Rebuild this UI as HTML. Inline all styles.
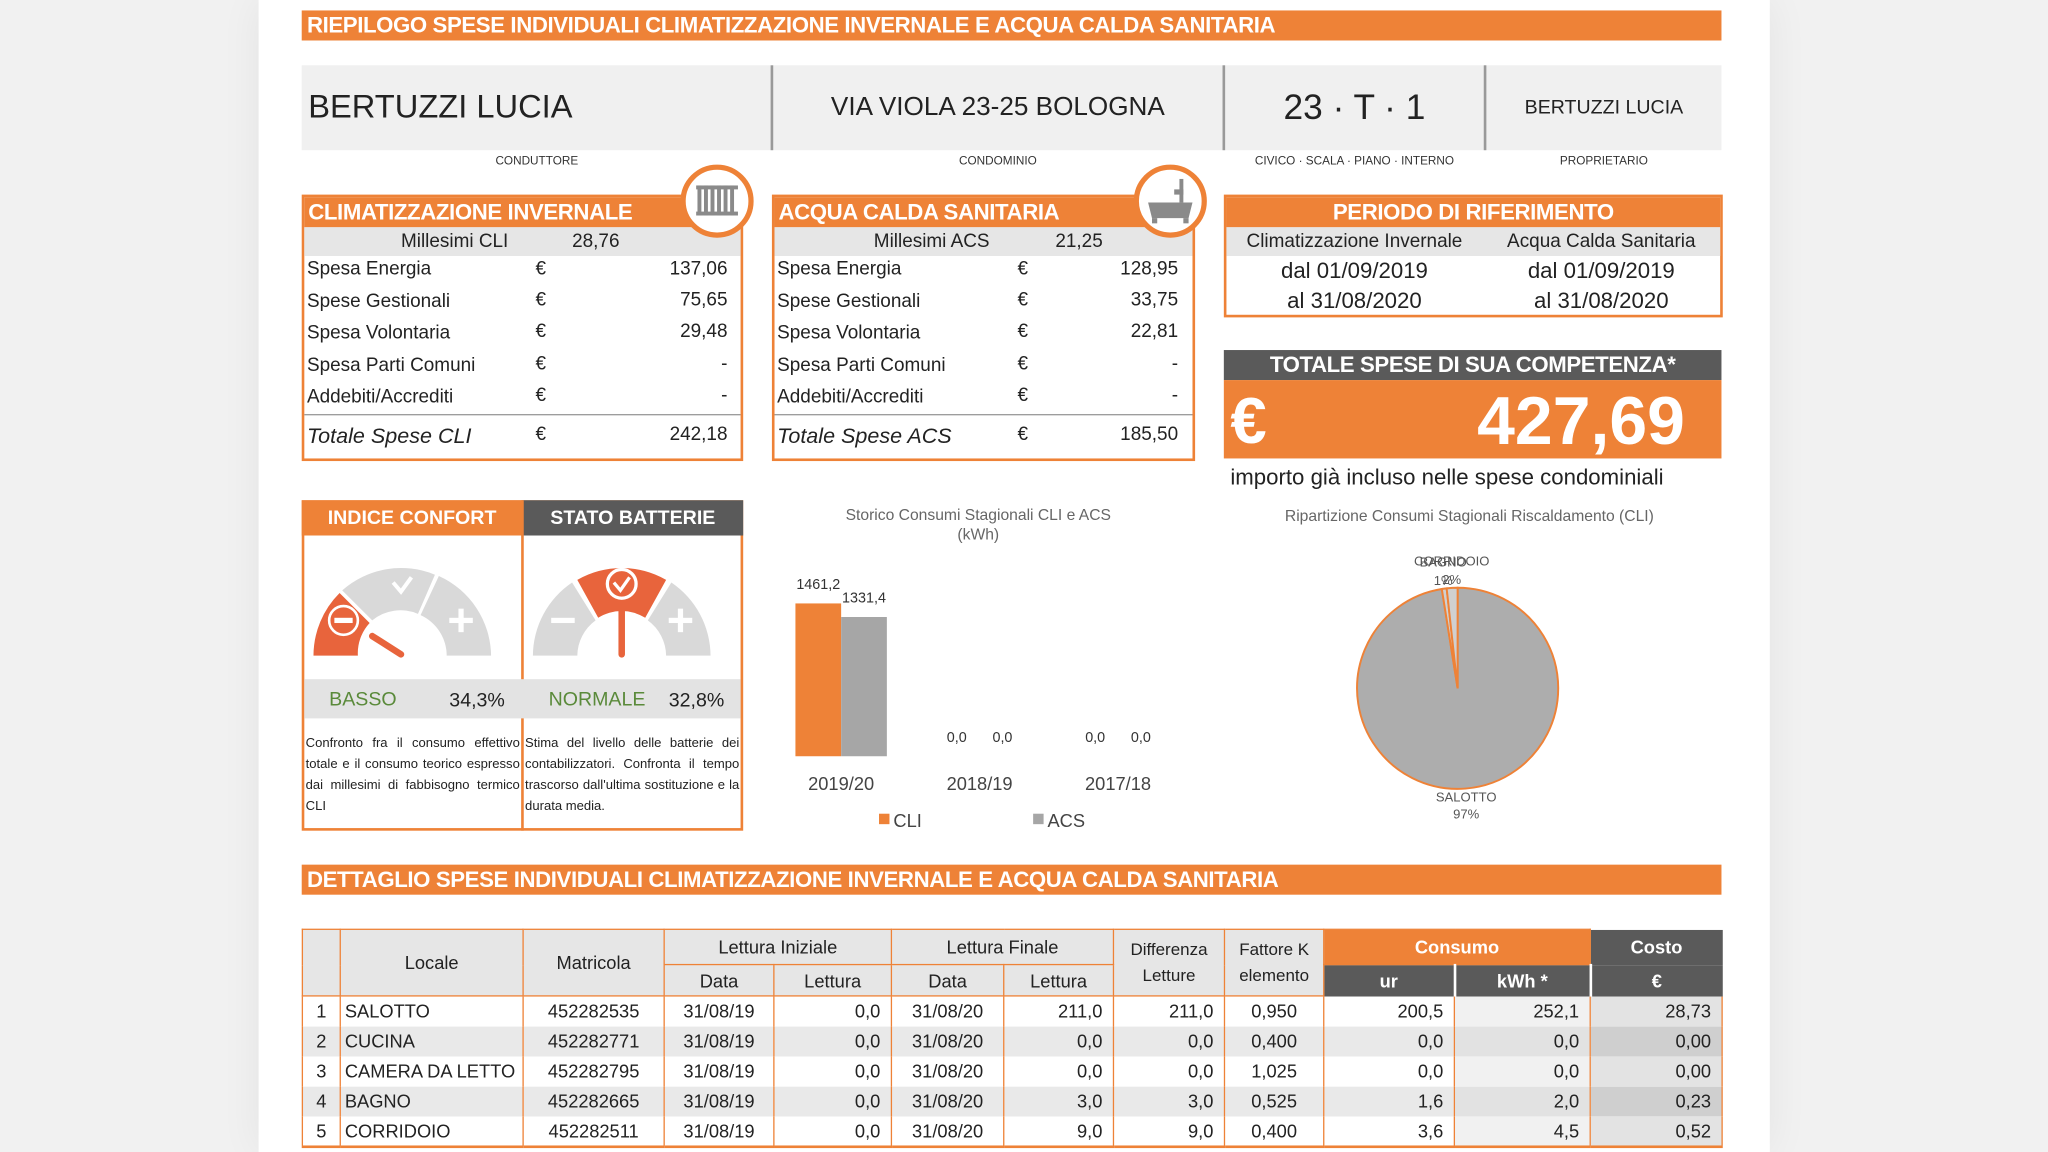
<!DOCTYPE html>
<html><head><meta charset="utf-8">
<style>
html,body{margin:0;padding:0;width:2048px;height:1152px;overflow:hidden;background:#f1f1f1;}
#wrap{position:absolute;left:0;top:0;width:1568px;height:882px;transform:scale(1.30612);transform-origin:0 0;font-family:"Liberation Sans Narrow","Liberation Sans",sans-serif;color:#222;}
.abs{position:absolute;}
.page{left:198px;top:0;width:1157px;height:882px;background:#fff;box-shadow:0 0 30px rgba(0,0,0,0.06);}
.obar{background:#ee8237;color:#fff;font-weight:bold;font-size:17px;line-height:23px;padding-left:4px;box-sizing:border-box;letter-spacing:-0.3px;}
.info{background:#f0f0f0;}
.lbl{font-size:9px;color:#333;text-align:center;}
.box{border:2px solid #ee8237;box-sizing:border-box;background:#fff;}
.hdr{background:#ee8237;color:#fff;font-weight:bold;font-size:17px;line-height:23px;letter-spacing:-0.3px;}
.row{font-size:14.5px;}
table{border-collapse:collapse;font-size:14px;}
</style></head><body>
<div id="wrap">
<div class="abs page"></div>

<div class="abs obar" style="left:231px;top:8px;width:1087px;height:23px;">RIEPILOGO SPESE INDIVIDUALI CLIMATIZZAZIONE INVERNALE E ACQUA CALDA SANITARIA</div>

<div class="abs info" style="left:231px;top:50px;width:1087px;height:65px;"></div>
<div class="abs" style="left:590px;top:50px;width:2px;height:65px;background:#999"></div>
<div class="abs" style="left:936px;top:50px;width:2px;height:65px;background:#999"></div>
<div class="abs" style="left:1136px;top:50px;width:2px;height:65px;background:#999"></div>
<div class="abs" style="left:236px;top:68px;font-size:25px;">BERTUZZI LUCIA</div>
<div class="abs" style="left:592px;width:344px;top:71px;font-size:20px;text-align:center;">VIA VIOLA 23-25 BOLOGNA</div>
<div class="abs" style="left:938px;width:198px;top:67px;font-size:27px;text-align:center;">23 · T · 1</div>
<div class="abs" style="left:1138px;width:180px;top:74px;font-size:15px;text-align:center;">BERTUZZI LUCIA</div>
<div class="abs lbl" style="left:331px;width:160px;top:118px;">CONDUTTORE</div>
<div class="abs lbl" style="left:684px;width:160px;top:118px;">CONDOMINIO</div>
<div class="abs lbl" style="left:937px;width:200px;top:118px;">CIVICO · SCALA · PIANO · INTERNO</div>
<div class="abs lbl" style="left:1148px;width:160px;top:118px;">PROPRIETARIO</div>

<!-- CLI box -->
<div class="abs box" style="left:231px;top:149px;width:338px;height:204px;">
 <div class="hdr" style="padding-left:3px;">CLIMATIZZAZIONE INVERNALE</div>
 <div style="background:#e6e6e6;height:22px;font-size:14.5px;line-height:22px;position:relative;"><span style="position:absolute;left:74px">Millesimi CLI</span><span style="position:absolute;left:205px">28,76</span></div>
</div>
<div class="abs" style="left:231px;top:0;width:338px;">
 <div class="abs row" style="left:4px;top:198px">Spesa Energia</div><div class="abs row" style="left:179px;top:198px">€</div><div class="abs row" style="left:230px;width:96px;text-align:right;top:198px">137,06</div>
 <div class="abs row" style="left:4px;top:223px">Spese Gestionali</div><div class="abs row" style="left:179px;top:222px">€</div><div class="abs row" style="left:230px;width:96px;text-align:right;top:222px">75,65</div>
 <div class="abs row" style="left:4px;top:247px">Spesa Volontaria</div><div class="abs row" style="left:179px;top:246px">€</div><div class="abs row" style="left:230px;width:96px;text-align:right;top:246px">29,48</div>
 <div class="abs row" style="left:4px;top:272px">Spesa Parti Comuni</div><div class="abs row" style="left:179px;top:271px">€</div><div class="abs row" style="left:230px;width:96px;text-align:right;top:271px">-</div>
 <div class="abs row" style="left:4px;top:296px">Addebiti/Accrediti</div><div class="abs row" style="left:179px;top:295px">€</div><div class="abs row" style="left:230px;width:96px;text-align:right;top:295px">-</div>
 <div class="abs" style="left:2px;top:317px;width:334px;height:1px;background:#999"></div>
 <div class="abs row" style="left:4px;top:325px;font-style:italic;font-size:16.5px">Totale Spese CLI</div><div class="abs row" style="left:179px;top:325px">€</div><div class="abs row" style="left:230px;width:96px;text-align:right;top:325px">242,18</div>
</div>
<svg class="abs" style="left:520px;top:125px" width="60" height="60"><circle cx="29" cy="29" r="26" fill="#fff" stroke="#ee8237" stroke-width="4"/><g fill="#8a8a8a"><rect x="13" y="17" width="32" height="3"/><rect x="13" y="37" width="32" height="3"/><rect x="14" y="17" width="3" height="23"/><rect x="19" y="17" width="3" height="23"/><rect x="24" y="17" width="3" height="23"/><rect x="29" y="17" width="3" height="23"/><rect x="34" y="17" width="3" height="23"/><rect x="39" y="17" width="3" height="23"/></g></svg>

<!-- ACS box -->
<div class="abs box" style="left:591px;top:149px;width:324px;height:204px;">
 <div class="hdr" style="padding-left:3px;">ACQUA CALDA SANITARIA</div>
 <div style="background:#e6e6e6;height:22px;font-size:14.5px;line-height:22px;position:relative;"><span style="position:absolute;left:76px">Millesimi ACS</span><span style="position:absolute;left:215px">21,25</span></div>
</div>
<div class="abs" style="left:591px;top:0;width:324px;">
 <div class="abs row" style="left:4px;top:198px">Spesa Energia</div><div class="abs row" style="left:188px;top:198px">€</div><div class="abs row" style="left:215px;width:96px;text-align:right;top:198px">128,95</div>
 <div class="abs row" style="left:4px;top:223px">Spese Gestionali</div><div class="abs row" style="left:188px;top:222px">€</div><div class="abs row" style="left:215px;width:96px;text-align:right;top:222px">33,75</div>
 <div class="abs row" style="left:4px;top:247px">Spesa Volontaria</div><div class="abs row" style="left:188px;top:246px">€</div><div class="abs row" style="left:215px;width:96px;text-align:right;top:246px">22,81</div>
 <div class="abs row" style="left:4px;top:272px">Spesa Parti Comuni</div><div class="abs row" style="left:188px;top:271px">€</div><div class="abs row" style="left:215px;width:96px;text-align:right;top:271px">-</div>
 <div class="abs row" style="left:4px;top:296px">Addebiti/Accrediti</div><div class="abs row" style="left:188px;top:295px">€</div><div class="abs row" style="left:215px;width:96px;text-align:right;top:295px">-</div>
 <div class="abs" style="left:2px;top:317px;width:320px;height:1px;background:#999"></div>
 <div class="abs row" style="left:4px;top:325px;font-style:italic;font-size:16.5px">Totale Spese ACS</div><div class="abs row" style="left:188px;top:325px">€</div><div class="abs row" style="left:215px;width:96px;text-align:right;top:325px">185,50</div>
</div>
<svg class="abs" style="left:867px;top:125px" width="60" height="60"><circle cx="29" cy="29" r="26" fill="#fff" stroke="#ee8237" stroke-width="4"/><path d="M12 30 H46 L43 42 H15 Z" fill="#8a8a8a"/><rect x="36" y="12" width="3" height="18" fill="#8a8a8a"/><rect x="32" y="20" width="7" height="4" fill="#8a8a8a"/><rect x="15" y="42" width="4" height="4" fill="#8a8a8a"/><rect x="39" y="42" width="4" height="4" fill="#8a8a8a"/></svg>

<!-- Periodo -->
<div class="abs box" style="left:937px;top:149px;width:382px;height:94px;">
 <div class="hdr" style="text-align:center;">PERIODO DI RIFERIMENTO</div>
 <div style="background:#e6e6e6;height:22px;font-size:14.5px;line-height:22px;display:flex;"><span style="width:196px;text-align:center">Climatizzazione Invernale</span><span style="width:182px;text-align:center">Acqua Calda Sanitaria</span></div>
 <div style="display:flex;font-size:17px;line-height:24px;"><span style="width:196px;text-align:center">dal 01/09/2019</span><span style="width:182px;text-align:center">dal 01/09/2019</span></div>
 <div style="display:flex;font-size:17px;line-height:22px;"><span style="width:196px;text-align:center">al 31/08/2020</span><span style="width:182px;text-align:center">al 31/08/2020</span></div>
</div>

<!-- Totale -->
<div class="abs" style="left:937px;top:268px;width:381px;height:23px;background:#5a5a5a;color:#fff;font-weight:bold;font-size:17px;line-height:23px;text-align:center;letter-spacing:-0.3px">TOTALE SPESE DI SUA COMPETENZA*</div>
<div class="abs" style="left:937px;top:291px;width:381px;height:60px;background:#ee8237;color:#fff;">
 <span class="abs" style="left:5px;top:2px;font-size:50px;font-weight:bold;">€</span>
 <span class="abs" style="right:28px;top:2px;font-size:52px;font-weight:bold;">427,69</span>
</div>
<div class="abs" style="left:942px;top:356px;font-size:17px;">importo già incluso nelle spese condominiali</div>

<!-- Indice confort / stato batterie -->
<div class="abs box" style="left:231px;top:383px;width:338px;height:253px;"></div>
<div class="abs" style="left:231px;top:383px;width:169px;height:27px;background:#ee8237;color:#fff;font-weight:bold;font-size:15px;line-height:27px;text-align:center;">INDICE CONFORT</div>
<div class="abs" style="left:400px;top:383px;width:169px;height:27px;background:#5a5a5a;color:#fff;font-weight:bold;font-size:15px;line-height:27px;text-align:center;">STATO BATTERIE</div>
<div class="abs" style="left:399px;top:383px;width:2px;height:253px;background:#ee8237"></div>
<div class="abs" style="left:233px;top:520px;width:334px;height:30px;background:#e3e3e3"></div>
<div class="abs" style="left:252px;top:527px;font-size:15px;color:#5a8a3a;">BASSO</div>
<div class="abs" style="left:344px;top:528px;font-size:15px;">34,3%</div>
<div class="abs" style="left:420px;top:527px;font-size:15px;color:#5a8a3a;">NORMALE</div>
<div class="abs" style="left:512px;top:528px;font-size:15px;">32,8%</div>
<div class="abs" style="left:234px;top:562px;width:164px;font-size:10px;line-height:16px;text-align:justify;">Confronto fra il consumo effettivo totale e il consumo teorico espresso dai millesimi di fabbisogno termico CLI</div>
<div class="abs" style="left:402px;top:562px;width:164px;font-size:10px;line-height:16px;text-align:justify;">Stima del livello delle batterie dei contabilizzatori. Confronta il tempo trascorso dall'ultima sostituzione e la durata media.</div>
<svg class="abs" style="left:0;top:0" width="600" height="560">
 <g>
  <path d="M240 502 A68 68 0 0 1 260 454 L283 477 A34 34 0 0 0 274 502 Z" fill="#e8643c"/>
  <path d="M262 452 A68 68 0 0 1 333 440 L320 470 A34 34 0 0 0 285 475 Z" fill="#d9d9d9"/>
  <path d="M336 441 A68 68 0 0 1 376 502 L342 502 A34 34 0 0 0 322 471 Z" fill="#d9d9d9"/>
  <circle cx="263" cy="475" r="11" fill="#e8643c" stroke="#fff" stroke-width="2"/><rect x="256" y="473" width="14" height="4" fill="#fff"/>
  <path d="M301 446 L307 453 L315 442" stroke="#fff" stroke-width="3" fill="none"/>
  <rect x="344" y="473" width="18" height="4" fill="#fff"/><rect x="351" y="466" width="4" height="18" fill="#fff"/>
  <line x1="285" y1="487" x2="307" y2="501" stroke="#e8643c" stroke-width="5" stroke-linecap="round"/>
 </g>
 <g>
  <path d="M408 502 A68 68 0 0 1 438 446 L456 475 A34 34 0 0 0 442 502 Z" fill="#d9d9d9"/>
  <path d="M442 444 A68 68 0 0 1 510 444 L494 473 A34 34 0 0 0 458 473 Z" fill="#e8643c"/>
  <path d="M514 446 A68 68 0 0 1 544 502 L510 502 A34 34 0 0 0 496 475 Z" fill="#d9d9d9"/>
  <circle cx="476" cy="447" r="11" fill="none" stroke="#fff" stroke-width="2.5"/><path d="M470 446 L475 452 L482 442" stroke="#fff" stroke-width="2.5" fill="none"/>
  <rect x="422" y="473" width="18" height="4" fill="#fff"/>
  <rect x="512" y="473" width="18" height="4" fill="#fff"/><rect x="519" y="466" width="4" height="18" fill="#fff"/>
  <line x1="476" y1="467" x2="476" y2="501" stroke="#e8643c" stroke-width="5" stroke-linecap="round"/>
 </g>
</svg>

<!-- Bar chart -->
<svg class="abs" id="barchart" style="left:590px;top:380px" width="330" height="265"></svg>
<!-- Pie chart -->
<svg class="abs" id="piechart" style="left:960px;top:380px" width="330" height="265"></svg>

<div class="abs obar" style="left:231px;top:662px;width:1087px;height:23px;">DETTAGLIO SPESE INDIVIDUALI CLIMATIZZAZIONE INVERNALE E ACQUA CALDA SANITARIA</div>

<div class="abs" style="left:231px;top:711px;">
<table id="tbl" style="width:1087px;table-layout:fixed;">
<colgroup><col style="width:29px"><col style="width:140px"><col style="width:108px"><col style="width:84px"><col style="width:90px"><col style="width:86px"><col style="width:84px"><col style="width:85px"><col style="width:76px"><col style="width:100px"><col style="width:104px"><col style="width:101px"></colgroup>
<tr style="height:27px">
<td rowspan="2" style="background:#e6e6e6;border:1.5px solid #ee8237"></td>
<td rowspan="2" style="background:#e6e6e6;border:1.5px solid #ee8237;text-align:center">Locale</td>
<td rowspan="2" style="background:#e6e6e6;border:1.5px solid #ee8237;text-align:center">Matricola</td>
<td colspan="2" style="background:#e6e6e6;border:1.5px solid #ee8237;text-align:center">Lettura Iniziale</td>
<td colspan="2" style="background:#e6e6e6;border:1.5px solid #ee8237;text-align:center">Lettura Finale</td>
<td rowspan="2" style="background:#e6e6e6;border:1.5px solid #ee8237;text-align:center;font-size:13px;line-height:20px">Differenza<br>Letture</td>
<td rowspan="2" style="background:#e6e6e6;border:1.5px solid #ee8237;text-align:center;font-size:13px;line-height:20px">Fattore K<br>elemento</td>
<td colspan="2" style="background:#ee8237;color:#fff;font-weight:bold;text-align:center;border:1.5px solid #ee8237">Consumo</td>
<td style="background:#5a5a5a;color:#fff;font-weight:bold;text-align:center">Costo</td>
</tr>
<tr style="height:24px">
<td style="background:#e6e6e6;border-right:1.5px solid #ee8237;border-bottom:1.5px solid #ee8237;text-align:center">Data</td>
<td style="background:#e6e6e6;border-right:1.5px solid #ee8237;border-bottom:1.5px solid #ee8237;text-align:center">Lettura</td>
<td style="background:#e6e6e6;border-right:1.5px solid #ee8237;border-bottom:1.5px solid #ee8237;text-align:center">Data</td>
<td style="background:#e6e6e6;border-right:1.5px solid #ee8237;border-bottom:1.5px solid #ee8237;text-align:center">Lettura</td>
<td style="background:#5a5a5a;color:#fff;font-weight:bold;text-align:center;border-right:2px solid #fff">ur</td>
<td style="background:#5a5a5a;color:#fff;font-weight:bold;text-align:center;border-right:2px solid #fff">kWh *</td>
<td style="background:#5a5a5a;color:#fff;font-weight:bold;text-align:center">€</td>
</tr>
</table>
</div>
</div>
<script>
// ---- table data ----
const rooms = ["SALOTTO","CUCINA","CAMERA DA LETTO","BAGNO","CORRIDOIO"];
const serials = ["452282535","452282771","452282795","452282665","452282511"];
const finalReads = ["211,0","0,0","0,0","3,0","9,0"];
const diffReads = ["211,0","0,0","0,0","3,0","9,0"];
const kFactors = ["0,950","0,400","1,025","0,525","0,400"];
const urVals = ["200,5","0,0","0,0","1,6","3,6"];
const kwhVals = [252.1, 0.0, 0.0, 2.0, 4.5];
const costVals = ["28,73","0,00","0,00","0,23","0,52"];

// ---- bar chart data ----
const seasons = ["2019/20","2018/19","2017/18"];
const cliSeries = [1461.2, 0.0, 0.0];
const acsSeries = [1331.4, 0.0, 0.0];

// ---- pie data ----
const pieLabels = ["SALOTTO","CUCINA","CAMERA DA LETTO","BAGNO","CORRIDOIO"];
const pieValues = [252.1, 0.0, 0.0, 2.0, 4.5];

const fmt = v => v.toFixed(1).replace('.', ',');
const NS = "http://www.w3.org/2000/svg";
function mk(tag, attrs, parent){const e=document.createElementNS(NS,tag);for(const k in attrs)e.setAttribute(k,attrs[k]);parent.appendChild(e);return e;}

// table rows
const tbl = document.getElementById('tbl');
rooms.forEach((r,i)=>{
  const tr = document.createElement('tr');
  tr.style.height = '23px';
  
  
  const alt = i%2===1;
  const bg = alt ? '#e9e9e9' : '#fff';
  const cells = [
    [String(i+1),'center',bg],[r,'left',bg],[serials[i],'center',bg],['31/08/19','center',bg],['0,0','right',bg],
    ['31/08/20','center',bg],[finalReads[i],'right',bg],[diffReads[i],'right',bg],[kFactors[i],'center',bg],
    [urVals[i],'right',alt?'#e9e9e9':'#fff'],[fmt(kwhVals[i]),'right',alt?'#e2e2e2':'#f1f1f1'],[costVals[i],'right',alt?'#cfcfcf':'#e3e3e3']
  ];
  cells.forEach((c,j)=>{
    const td=document.createElement('td');
    td.textContent=c[0];
    td.style.textAlign=c[1];
    td.style.background=c[2];
    td.style.borderLeft='1.5px solid #ee8237';
    td.style.borderRight='1.5px solid #ee8237';
    if(i===rooms.length-1) td.style.borderBottom='2px solid #ee8237';
    td.style.padding = c[1]==='right' ? '0 8px 0 3px' : '0 3px';
    td.style.whiteSpace='nowrap';
    td.style.overflow='hidden';
    tr.appendChild(td);
  });
  tbl.appendChild(tr);
});

// bar chart
(function(){
  const svg=document.getElementById('barchart');
  const baseY=199, plotH=117, maxV=1461.2;
  const yScale=v=>baseY - v/maxV*plotH;
  const groupX=i=>54 + i*106;
  const barW=35;
  let t=mk('text',{x:159,y:18,'text-anchor':'middle','font-size':'12','fill':'#666'},svg);t.textContent="Storico Consumi Stagionali CLI e ACS";
  
  
  t=mk('text',{x:159,y:33,'text-anchor':'middle','font-size':'12','fill':'#666'},svg);t.textContent="(kWh)";
  seasons.forEach((s,i)=>{
    const cx=groupX(i);
    const b1=mk('rect',{x:cx-barW,y:yScale(cliSeries[i]),width:barW,height:baseY-yScale(cliSeries[i]),fill:'#ee8237'},svg);
    
    
    const b2=mk('rect',{x:cx,y:yScale(acsSeries[i]),width:barW,height:baseY-yScale(acsSeries[i]),fill:'#a6a6a6'},svg);
    
    
    let l=mk('text',{x:cx-barW/2,y:yScale(cliSeries[i])-11,'text-anchor':'middle','font-size':'11','fill':'#333'},svg);l.textContent=fmt(cliSeries[i]);
    
    
    l=mk('text',{x:cx+barW/2,y:yScale(acsSeries[i])-11,'text-anchor':'middle','font-size':'11','fill':'#333'},svg);l.textContent=fmt(acsSeries[i]);
    
    
    const c=mk('text',{x:cx,y:225,'text-anchor':'middle','font-size':'14','fill':'#444'},svg);c.textContent=s;
    
    
  });
  const lg1=mk('rect',{x:83,y:243,width:8,height:8,fill:'#ee8237'},svg);
  
  
  let lt=mk('text',{x:94,y:253,'font-size':'14','fill':'#444'},svg);lt.textContent="CLI";
  const lg2=mk('rect',{x:201,y:243,width:8,height:8,fill:'#a6a6a6'},svg);
  
  
  lt=mk('text',{x:212,y:253,'font-size':'14','fill':'#444'},svg);lt.textContent="ACS";
})();

// pie chart
(function(){
  const svg=document.getElementById('piechart');
  const cx=156, cy=147, r=77;
  let t=mk('text',{x:165,y:19,'text-anchor':'middle','font-size':'12','fill':'#666'},svg);t.textContent="Ripartizione Consumi Stagionali Riscaldamento (CLI)";
  
  
  const total=pieValues.reduce((a,b)=>a+b,0);
  let ang=-Math.PI/2;
  pieValues.forEach((v,i)=>{
    if(v<=0) return;
    const a2=ang+v/total*2*Math.PI;
    const large=(a2-ang)>Math.PI?1:0;
    const x1=cx+r*Math.cos(ang), y1=cy+r*Math.sin(ang), x2=cx+r*Math.cos(a2), y2=cy+r*Math.sin(a2);
    const p=mk('path',{d:`M${cx} ${cy} L${x1} ${y1} A${r} ${r} 0 ${large} 1 ${x2} ${y2} Z`,fill:i===0?'#adadad':'#d0d0d0',stroke:'#ee8237','stroke-width':'1.5'},svg);
    
    
    const mid=(ang+a2)/2;
    const pct=Math.round(v/total*100)+'%';
    const lx=cx+(r+6)*Math.cos(mid), ly=cy+(r+6)*Math.sin(mid);
    const isBottom=Math.sin(mid)>0;
    const l1=mk('text',{x:lx,y:isBottom?ly+4:ly-11,'text-anchor':'middle','font-size':'10','fill':'#555'},svg);l1.textContent=pieLabels[i];
    
    
    const l2=mk('text',{x:lx,y:isBottom?ly+17:ly+3,'text-anchor':'middle','font-size':'10','fill':'#555'},svg);l2.textContent=pct;
    ang=a2;
  });
})();
</script>
</body></html>
